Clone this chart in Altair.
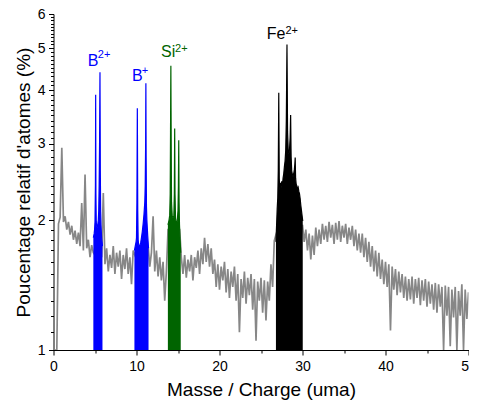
import altair as alt
import numpy as np
import pandas as pd

# ---------------- data ----------------
# grey background spectrum, one value every 0.2 uma from 0 to 50
grey_step = 0.2
grey_y = [
    1.00, 1.00, 1.00, 1.96, 2.03,
    2.94, 1.98, 2.04, 1.90, 1.98,
    1.85, 1.94, 1.80, 1.89, 1.76,
    1.87, 1.74, 2.19, 1.70, 2.55,
    1.72, 1.80, 1.64, 1.75, 1.68,
    1.66, 1.72, 1.62, 1.70, 1.64,
    2.31, 1.58, 1.72, 1.52, 1.66,
    1.55, 1.74, 1.50, 1.68, 1.56,
    1.70, 1.46, 1.66, 1.54, 1.72,
    1.50, 1.64, 1.42, 1.70, 1.66,
    1.70, 1.70, 1.70, 1.70, 1.70,
    1.70, 1.70, 1.74, 1.56, 1.68,
    2.04, 1.52, 1.70, 1.48, 1.64,
    1.45, 1.60, 1.30, 1.52, 1.90,
    1.90, 1.90, 1.90, 1.90, 1.90,
    1.90, 1.90, 1.64, 1.50, 1.66,
    1.47, 1.62, 1.52, 1.66, 1.45,
    1.64, 1.55, 1.70, 1.50, 1.72,
    1.58, 1.82, 1.60, 1.76, 1.56,
    1.72, 1.50, 1.62, 1.40, 1.58,
    1.38, 1.56, 1.45, 1.60, 1.36,
    1.54, 1.32, 1.52, 1.40, 1.56,
    1.30, 1.50, 1.10, 1.46, 1.32,
    1.52, 1.28, 1.47, 1.34, 1.50,
    1.24, 1.46, 1.05, 1.44, 1.30,
    1.47, 1.22, 1.45, 1.17, 1.44,
    1.30, 1.58, 1.40, 1.79, 1.85,
    1.90, 1.90, 1.90, 1.90, 1.90,
    1.90, 1.90, 1.90, 1.90, 1.90,
    1.90, 1.90, 1.90, 1.90, 1.90,
    1.95, 1.78, 1.90, 1.70, 1.86,
    1.62, 1.84, 1.66, 1.92, 1.74,
    1.90, 1.76, 1.96, 1.80, 1.94,
    1.78, 1.98, 1.82, 1.95, 1.76,
    1.97, 1.80, 1.99, 1.78, 1.94,
    1.82, 1.96, 1.76, 1.92, 1.80,
    1.94, 1.74, 1.90, 1.70, 1.86,
    1.68, 1.86, 1.64, 1.82, 1.60,
    1.78, 1.56, 1.74, 1.52, 1.70,
    1.48, 1.68, 1.46, 1.62, 1.42,
    1.60, 1.40, 1.58, 1.11, 1.56,
    1.38, 1.54, 1.34, 1.52, 1.36,
    1.50, 1.32, 1.48, 1.30, 1.46,
    1.31, 1.48, 1.28, 1.46, 1.32,
    1.47, 1.27, 1.45, 1.30, 1.46,
    1.26, 1.44, 1.28, 1.42, 1.24,
    1.43, 1.22, 1.42, 1.26, 1.40,
    1.00, 1.41, 1.20, 1.40, 1.02,
    1.38, 1.19, 1.40, 1.00, 1.37,
    1.20, 1.42, 1.00, 1.38, 1.18,
    1.36,
]

# B2+ peaks
b2_x = [4.80, 4.85, 4.90, 4.95, 5.00, 5.05, 5.08, 5.11, 5.15, 5.20, 5.25, 5.30,
        5.35, 5.40, 5.45, 5.50, 5.55, 5.60, 5.64, 5.68, 5.72, 5.76, 5.80, 5.85, 5.90]
b2_y = [1.82, 1.84, 1.86, 1.90, 1.98, 2.40, 3.90, 2.30, 1.98, 1.94, 1.92, 1.93,
        1.96, 2.00, 2.10, 2.40, 3.00, 4.40, 2.60, 2.10, 1.95, 1.88, 1.82, 1.78, 1.74]

# B+ peaks
b1_x = [9.75, 9.80, 9.85, 9.90, 9.95, 10.00, 10.05, 10.10, 10.15, 10.20, 10.25,
        10.30, 10.35, 10.40, 10.50, 10.60, 10.70, 10.80, 10.90, 11.00, 11.05,
        11.10, 11.13, 11.16, 11.20, 11.25, 11.30, 11.35, 11.40, 11.45]
b1_y = [1.70, 1.72, 1.74, 1.76, 1.78, 1.82, 2.20, 3.63, 2.10, 1.80, 1.76,
        1.74, 1.73, 1.74, 1.77, 1.82, 1.88, 1.96, 2.06, 2.20, 2.40,
        3.00, 4.15, 2.80, 2.15, 2.00, 1.92, 1.84, 1.78, 1.72]

# Si2+ peaks
si_x = [13.78, 13.85, 13.92, 14.00, 14.06, 14.10, 14.14, 14.18, 14.22, 14.30,
        14.40, 14.50, 14.56, 14.60, 14.64, 14.70, 14.80, 14.90, 15.00, 15.05,
        15.09, 15.13, 15.18, 15.25, 15.33]
si_y = [1.95, 1.97, 2.00, 2.05, 2.30, 3.20, 4.55, 3.00, 2.20, 2.05,
        2.02, 2.05, 2.30, 3.26, 2.30, 2.02, 1.96, 1.98, 2.10, 2.40,
        3.06, 2.20, 1.95, 1.80, 1.68]

# Fe2+ peaks
fe_x = [26.80, 26.88, 26.95, 27.02, 27.08, 27.14, 27.20, 27.26, 27.34, 27.42,
        27.50, 27.58, 27.66, 27.74, 27.82, 27.90, 27.98, 28.05, 28.13, 28.20,
        28.28, 28.36, 28.44, 28.51, 28.57, 28.63, 28.70, 28.78, 28.86, 28.94,
        29.02, 29.08, 29.12, 29.17, 29.24, 29.32, 29.40, 29.48, 29.56, 29.64,
        29.72, 29.80, 29.88, 29.96, 30.03]
fe_y = [1.78, 1.95, 2.12, 2.25, 2.60, 3.94, 2.50, 2.34, 2.44, 2.38,
        2.46, 2.40, 2.50, 2.56, 2.66, 2.74, 2.90, 3.40, 5.10, 3.20,
        2.90, 2.84, 2.92, 3.10, 3.50, 2.80, 2.60, 2.55, 2.52, 2.56,
        2.62, 2.70, 2.79, 2.50, 2.42, 2.40, 2.36, 2.38, 2.33, 2.30,
        2.24, 2.16, 2.10, 2.04, 1.99]

regions = ["B2+", "B+", "Si2+", "Fe2+"]
region_colors = ["#0000FF", "#0000FF", "#006400", "#000000"]

# annotation labels (main text + superscript), positions in data units
lab_text = ["B", "B", "Si", "Fe"]
lab_x = [4.13, 9.47, 12.95, 25.68]
lab_y = [4.55, 4.19, 4.76, 5.24]
sup_text = ["2+", "+", "2+", "2+"]
sup_x = [5.34, 10.62, 14.65, 27.94]
sup_y = [4.74, 4.35, 4.91, 5.40]
lab_colors = ["#0000FF", "#0000FF", "#006400", "#000000"]

x_ticks = [0, 5, 10, 15, 20, 25, 30, 35, 40, 45, 50]
y_ticks = [round(1 + 0.1 * i, 1) for i in range(51)]

# ---------------- tables ----------------
grey_df = pd.DataFrame({"x": np.round(np.arange(len(grey_y)) * grey_step, 2), "y": grey_y})
peak_frames = []
for name, xs, ys in zip(regions, [b2_x, b1_x, si_x, fe_x], [b2_y, b1_y, si_y, fe_y]):
    peak_frames.append(pd.DataFrame({"x": xs, "y": ys, "ion": name}))
peaks_df = pd.concat(peak_frames, ignore_index=True)
lab_df = pd.DataFrame({"t": lab_text, "x": lab_x, "y": lab_y, "c": lab_colors})
sup_df = pd.DataFrame({"t": sup_text, "x": sup_x, "y": sup_y, "c": lab_colors})

xscale = alt.Scale(domain=[0, 50], nice=False, zero=False)
yscale = alt.Scale(type="log", domain=[1, 6], nice=False)
font = "Liberation Sans"

x_major_test = "datum.value % 10 === 0"
y_major_test = "abs(datum.value - round(datum.value)) < 0.001"

x_axis = alt.Axis(values=x_ticks, labelFontSize=14,
                  labelExpr=f"({x_major_test}) ? format(datum.value, 'd') : ''",
                  tickSize={"condition": {"test": x_major_test, "value": 5}, "value": 3},
                  labelPadding=4, title="Masse / Charge (uma)", titleFontSize=19,
                  titleFontWeight="normal", titlePadding=7, orient="bottom",
                  grid=False, labelFlush=False, labelOverlap=False, labelBound=False)
y_axis = alt.Axis(values=y_ticks, labelFontSize=14,
                  labelExpr=f"({y_major_test}) ? format(datum.value, 'd') : ''",
                  tickSize={"condition": {"test": y_major_test, "value": 5}, "value": 3},
                  labelPadding=3.5, title="Poucentage relatif d'atomes (%)",
                  titleFontSize=19, titleFontWeight="normal", titlePadding=4,
                  orient="left", grid=False, labelOverlap=False, labelBound=False,
                  labelFlush=False)

grey = alt.Chart(grey_df).mark_line(color="#878787", strokeWidth=1.7, clip=True).encode(
    x=alt.X("x:Q", scale=xscale, axis=x_axis),
    y=alt.Y("y:Q", scale=yscale, axis=y_axis),
)

color_scale = alt.Scale(domain=regions, range=region_colors)

peak_area = alt.Chart(peaks_df).mark_area(clip=True, opacity=1).encode(
    x=alt.X("x:Q", scale=xscale),
    y=alt.Y("y:Q", scale=yscale),
    y2=alt.datum(1),
    color=alt.Color("ion:N", scale=color_scale, legend=None),
    detail="ion:N",
)
peak_line = alt.Chart(peaks_df).mark_line(clip=True, strokeWidth=1.2).encode(
    x=alt.X("x:Q", scale=xscale),
    y=alt.Y("y:Q", scale=yscale),
    color=alt.Color("ion:N", scale=color_scale, legend=None),
    detail="ion:N",
)

labels = alt.Chart(lab_df).mark_text(align="left", baseline="alphabetic", fontSize=16,
                                     font=font).encode(
    x=alt.X("x:Q", scale=xscale),
    y=alt.Y("y:Q", scale=yscale),
    text="t:N",
    color=alt.Color("c:N", scale=None),
)
sups = alt.Chart(sup_df).mark_text(align="left", baseline="alphabetic", fontSize=11,
                                   font=font).encode(
    x=alt.X("x:Q", scale=xscale),
    y=alt.Y("y:Q", scale=yscale),
    text="t:N",
    color=alt.Color("c:N", scale=None),
)

chart = alt.layer(grey, peak_area, peak_line, labels, sups).properties(
    width=415, height=336,
    autosize=alt.AutoSizeParams(type="none"),
    padding={"left": 45.5, "top": 6, "right": 0.5, "bottom": 50},
).configure_view(stroke=None).configure_axis(
    domainColor="black", tickColor="black", labelColor="black", titleColor="black",
    labelFont=font, titleFont=font, domainWidth=1, tickWidth=1,
)

chart.save("out.html", embed_options={"renderer": "svg", "actions": False})
